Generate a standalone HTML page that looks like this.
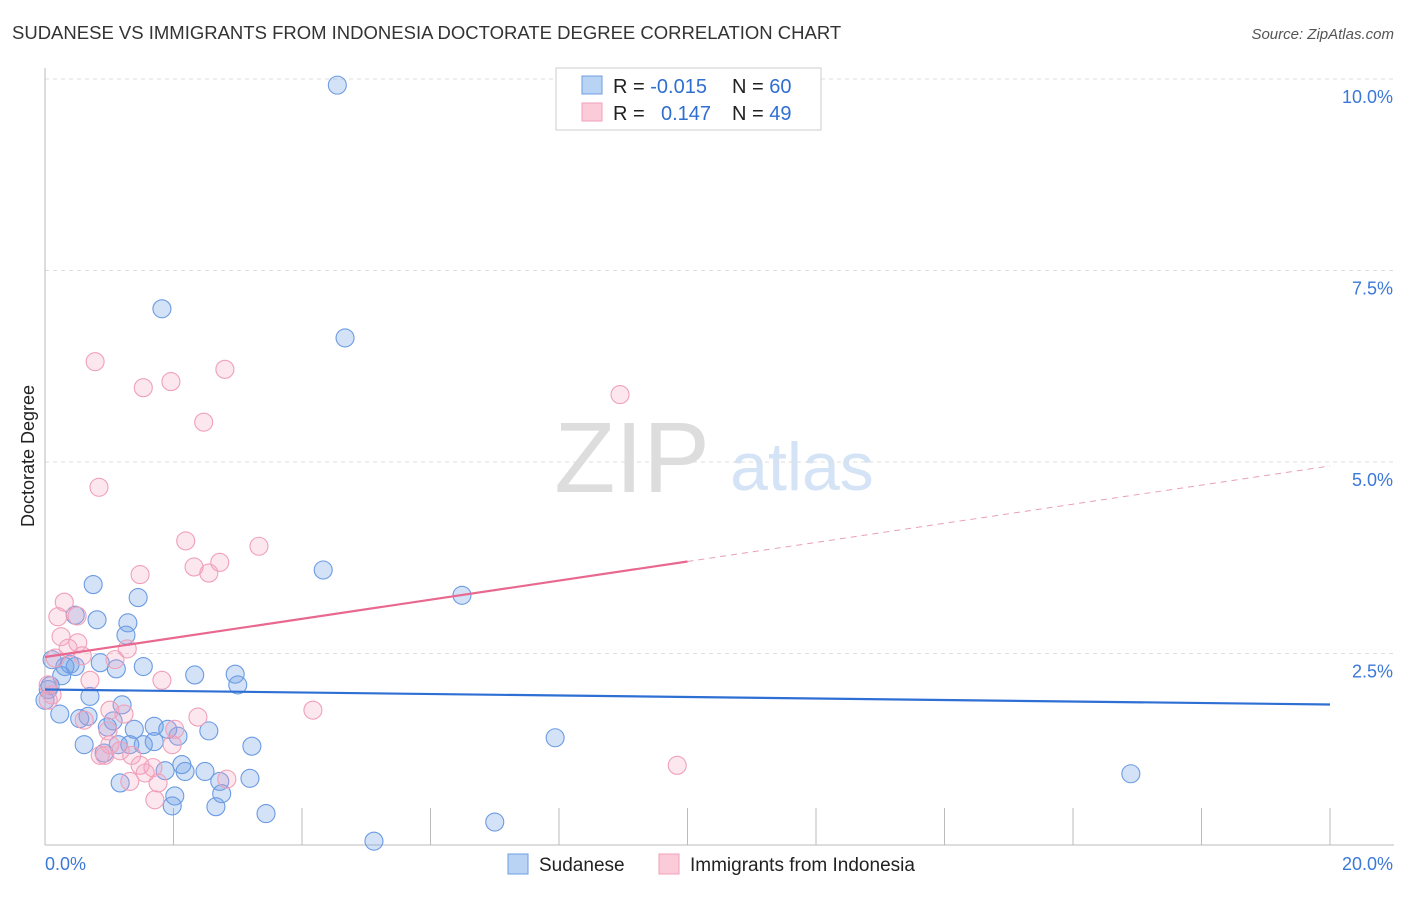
<!DOCTYPE html>
<html><head><meta charset="utf-8"><style>
body{margin:0;background:#fff;font-family:"Liberation Sans",sans-serif}
svg text{font-family:"Liberation Sans",sans-serif}
</style></head><body>
<svg id="c" width="1406" height="892">
<text x="12" y="39" font-size="18.5" fill="#333">SUDANESE VS IMMIGRANTS FROM INDONESIA DOCTORATE DEGREE CORRELATION CHART</text>
<text x="1394" y="39" font-size="15" fill="#555" text-anchor="end" font-style="italic">Source: ZipAtlas.com</text>
<text x="632" y="492" font-size="100" fill="#ddd" text-anchor="middle" font-family="Liberation Serif">ZIP</text>
<text x="802" y="490" font-size="68" fill="#d4e3f5" text-anchor="middle">atlas</text>
<text transform="translate(34,456) rotate(-90)" font-size="18" fill="#222" text-anchor="middle">Doctorate Degree</text>
<g id="grid"></g><g id="pts"></g><g id="lines"></g>
<g>
<rect x="556" y="68" width="265" height="62" fill="#fff" stroke="#ccc"/>
<rect x="582" y="76" width="20" height="18" fill="#b9d3f5" stroke="#6d9de0"/>
<rect x="582" y="103" width="20" height="18" fill="#fbcbd9" stroke="#f0a0b8"/>
<text x="613" y="93" font-size="20" fill="#222">R = <tspan fill="#2f6fd1">-0.015</tspan><tspan x="732">N = </tspan><tspan fill="#2f6fd1">60</tspan></text>
<text x="613" y="120" font-size="20" fill="#222">R = <tspan x="661" fill="#2f6fd1">0.147</tspan><tspan x="732">N = </tspan><tspan fill="#2f6fd1">49</tspan></text>
</g>
<g>
<rect x="508" y="854" width="20" height="20" fill="#b9d3f5" stroke="#6d9de0"/>
<text x="539" y="871" font-size="19" fill="#222">Sudanese</text>
<rect x="659" y="854" width="20" height="20" fill="#fbcbd9" stroke="#f0a0b8"/>
<text x="690" y="871" font-size="19" fill="#222">Immigrants from Indonesia</text>
</g>
</svg>
<script>
const yTicks=[2.5,5.0,7.5,10.0];
const yTickLabels=["2.5%","5.0%","7.5%","10.0%"];
const xTickLabels=["0.0%","20.0%"];
const sudaneseX=[4.55,1.82,4.67,4.33,6.49,0.75,1.45,0.81,1.29,1.26,0.47,0.86,1.11,1.53,2.33,2.96,3.00,0.11,0.31,0.39,0.47,0.26,0.08,0.05,0.70,0.23,0.67,0.54,1.20,1.06,0.97,1.39,1.70,1.91,2.07,2.55,0.61,1.14,1.53,1.70,0.92,3.22,2.13,2.18,1.87,2.49,2.72,3.19,1.17,2.75,2.02,1.98,2.66,3.44,5.12,7.00,7.94,16.90,1.32,0.00];
const sudaneseY=[9.92,7.00,6.62,3.59,3.26,3.40,3.23,2.94,2.90,2.74,3.00,2.38,2.30,2.33,2.22,2.23,2.09,2.42,2.33,2.36,2.33,2.21,2.08,2.03,1.94,1.71,1.68,1.65,1.83,1.62,1.54,1.51,1.55,1.51,1.42,1.49,1.31,1.31,1.31,1.35,1.20,1.29,1.05,0.96,0.97,0.96,0.83,0.87,0.81,0.67,0.64,0.51,0.50,0.41,0.05,0.30,1.40,0.93,1.31,1.89];
const indoX=[0.78,1.53,1.96,2.80,2.47,0.84,2.19,3.33,1.48,2.32,2.55,2.72,0.30,0.20,0.50,0.25,0.51,0.36,0.16,0.58,1.09,1.28,0.70,1.82,4.17,8.95,9.84,0.11,0.05,1.01,1.23,2.38,2.02,0.61,0.98,1.01,0.93,1.17,1.35,1.48,1.98,1.68,1.56,1.32,1.76,2.83,1.71,0.05,0.86];
const indoY=[6.31,5.97,6.05,6.21,5.52,4.67,3.97,3.90,3.53,3.63,3.55,3.69,3.17,2.98,2.99,2.72,2.64,2.57,2.44,2.47,2.42,2.56,2.15,2.15,1.76,5.88,1.04,1.96,1.89,1.76,1.71,1.67,1.51,1.63,1.49,1.31,1.17,1.23,1.17,1.04,1.31,1.01,0.94,0.83,0.81,0.86,0.59,2.09,1.17];
const blueLine=[2.03,-0.0098];
const pinkLine=[2.454,0.1247];
const NS="http://www.w3.org/2000/svg";
const X=v=>45+v*64.25, Y=v=>845-v*76.6;
function mk(t,a,p){const e=document.createElementNS(NS,t);for(const k in a)e.setAttribute(k,a[k]);document.getElementById(p).appendChild(e);return e;}
yTicks.forEach((t,i)=>{
 const l=mk('line',{x1:45,x2:1394,y1:Y(t),y2:Y(t),stroke:'#ddd','stroke-dasharray':'4,4'},'grid');
 
 
 const tx=mk('text',{x:1393,y:Y(t)+24,'font-size':18,fill:'#3b78d8','text-anchor':'end'},'grid');
 tx.textContent=yTickLabels[i];
 
 
});
let ax=mk('line',{x1:45,x2:45,y1:68,y2:845,stroke:'#bbb'},'grid');


ax=mk('line',{x1:45,x2:1394,y1:845,y2:845,stroke:'#bbb'},'grid');


for(let i=1;i<=10;i++){const t=mk('line',{x1:X(i*2),x2:X(i*2),y1:808,y2:845,stroke:'#bbb'},'grid');
 
 }
[[0,45,'start'],[20,1393,'end']].forEach((d,i)=>{const t=mk('text',{x:d[1],y:870,'font-size':18,fill:'#3b78d8','text-anchor':d[2]},'grid');t.textContent=xTickLabels[i];
 
 });
sudaneseX.forEach((x,i)=>{const c=mk('circle',{cx:X(x),cy:Y(sudaneseY[i]),r:9,fill:'rgba(110,160,230,0.3)',stroke:'#6b9be3','stroke-width':1.1},'pts');
 
 });
indoX.forEach((x,i)=>{const c=mk('circle',{cx:X(x),cy:Y(indoY[i]),r:9,fill:'rgba(245,160,190,0.25)',stroke:'#f0a0b8','stroke-width':1.1},'pts');
 
 });
let l=mk('line',{x1:X(0),x2:X(20),y1:Y(blueLine[0]),y2:Y(blueLine[0]+20*blueLine[1]),stroke:'#2e6fd4','stroke-width':2.2},'lines');


l=mk('line',{x1:X(0),x2:X(10),y1:Y(pinkLine[0]),y2:Y(pinkLine[0]+10*pinkLine[1]),stroke:'#e8688f','stroke-width':2.2},'lines');


l=mk('line',{x1:X(10),x2:X(20),y1:Y(pinkLine[0]+10*pinkLine[1]),y2:Y(pinkLine[0]+20*pinkLine[1]),stroke:'#e8a0b5','stroke-width':1,'stroke-dasharray':'6,5'},'lines');


</script>
</body></html>
